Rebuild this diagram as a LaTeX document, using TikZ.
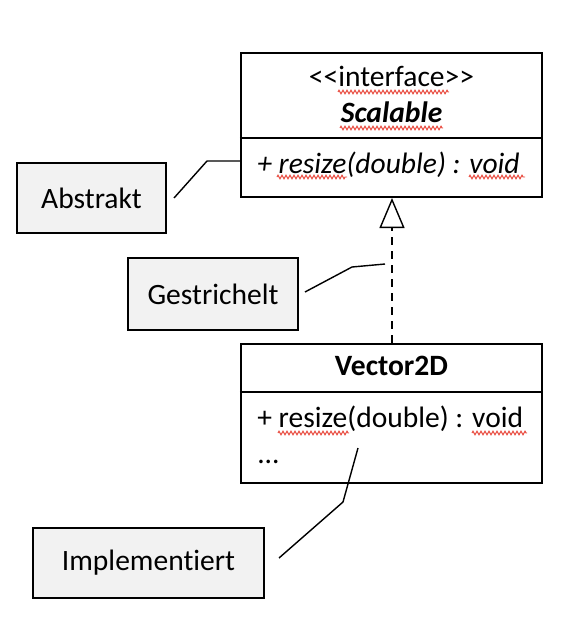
\documentclass[tikz,border=0pt]{standalone}
\usepackage{fontspec}
\setmainfont{Carlito}[Ligatures=NoCommon]
\usepackage{tikz}
\usetikzlibrary{positioning,arrows.meta,decorations.pathmorphing}
\definecolor{notegray}{HTML}{F2F2F2}
\definecolor{spellred}{HTML}{E8473B}

\begin{document}
\begin{tikzpicture}[x=0.025cm, y=-0.025cm,
    font=\fontsize{21}{25}\selectfont,
    classbox/.style={draw, line width=1.4pt, minimum width=7.525cm},
    notebox/.style={draw, line width=1.4pt, fill=notegray},
    callout/.style={line width=1pt},
    squiggle/.style={spellred, line width=0.7pt, decorate,
      decoration={zigzag, amplitude=0.045cm, segment length=0.1cm}}]
  \useasboundingbox (0,0) rectangle (566,618);

  \node[classbox, minimum height=3.6cm] (scalable) at (391.5,125) {};
  \node[classbox, minimum height=3.475cm] (vector) at (391.5,413.5) {};
  \draw[line width=1.4pt] (scalable.west |- 0,138) -- (scalable.east |- 0,138);
  \draw[line width=1.4pt] (vector.west |- 0,392) -- (vector.east |- 0,392);

  \node[anchor=base] (stereo) at (391.5,86) {<\kern0pt<interface>\kern0pt>};
  \node[anchor=base] (scalname) at (391.5,122) {\textbf{\textit{Scalable}}};
  \node[anchor=base west, inner xsep=0pt] (scalop) at (257,173) {\textit{+ resize(double) : void}};
  \node[anchor=base] (vecname) at (391.5,375) {\textbf{Vector2D}};
  \node[anchor=base west, inner xsep=0pt] (vecop) at (257,427) {+ resize(double) : void};
  \node[anchor=base west, inner xsep=0pt] (vecdots) at (257,463) {...};

  \node[notebox, minimum width=3.725cm, minimum height=1.75cm] (abstrakt) at (91.5,198) {Abstrakt};
  \node[notebox, minimum width=4.25cm, minimum height=1.8cm] (gestrichelt) at (213,294) {Gestrichelt};
  \node[notebox, minimum width=5.775cm, minimum height=1.75cm] (implementiert) at (148.5,563) {Implementiert};

  % realization arrow
  \draw[line width=1.2pt, dash pattern=on 0.2cm off 0.15cm,
    -{Triangle[open, width=0.625cm, length=0.75cm, line width=1pt]}]
    (vector.north -| 392,0) -- (scalable.south -| 392,0);

  % callouts
  \coordinate (absbend) at (207,161);
  \coordinate (gesbend) at (352,267);
  \coordinate (gesend) at (385,264);
  \coordinate (impbend) at (343,502);
  \coordinate (impend) at (358,448);
  \draw[callout] ([xshift=0.175cm]abstrakt.east) -- (absbend) -- (absbend -| scalable.west);
  \draw[callout] ([shift={(0.15cm,0.05cm)}]gestrichelt.east) -- (gesbend) -- (gesend);
  \draw[callout] ([shift={(0.35cm,0.125cm)}]implementiert.east) -- (impbend) -- (impend);

  % spell check marks
  \foreach \xa/\xb/\yy in {338/449/92, 340/443/128, 277/347/177, 469/525/177,
                           278/349/433, 472/527/433} {
    \draw[squiggle] (\xa,\yy) -- (\xb,\yy);
  }
\end{tikzpicture}
\end{document}
